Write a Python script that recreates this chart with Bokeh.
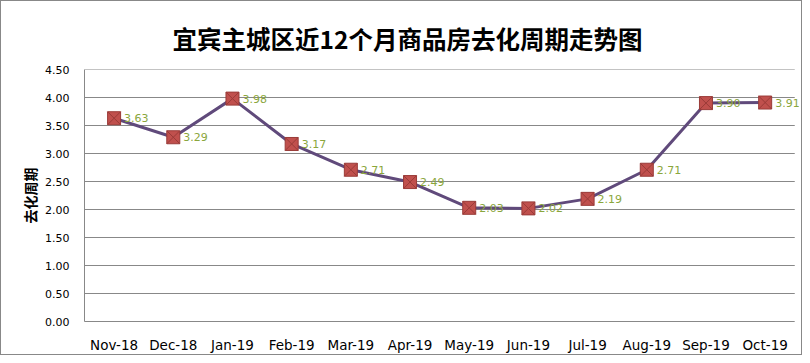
from bokeh.plotting import figure
from bokeh.models import ColumnDataSource, Range1d, FixedTicker, NumeralTickFormatter, LabelSet
from bokeh.embed import file_html
from bokeh.resources import INLINE
from bokeh.core.properties import value

months = ["Nov-18", "Dec-18", "Jan-19", "Feb-19", "Mar-19", "Apr-19",
          "May-19", "Jun-19", "Jul-19", "Aug-19", "Sep-19", "Oct-19"]
cycle = [3.63, 3.29, 3.98, 3.17, 2.71, 2.49, 2.03, 2.02, 2.19, 2.71, 3.90, 3.91]
y_ticks = [0.0, 0.5, 1.0, 1.5, 2.0, 2.5, 3.0, 3.5, 4.0, 4.5]
title_text = "宜宾主城区近12个月商品房去化周期走势图"
y_label = "去化周期"

n = len(months)
xs = list(range(n))
src = ColumnDataSource(dict(x=xs, y=cycle, lbl=["%.2f" % v for v in cycle]))

# frame extends a few pixels past the last category so the last label is not cut
p = figure(width=802, height=355, x_range=Range1d(-0.5, n - 0.5 + 0.08), y_range=Range1d(0, 4.5),
           output_backend="svg", toolbar_location=None,
           min_border_left=83, min_border_right=4, min_border_top=68, min_border_bottom=35)
p.styles = {"border": "1px solid #888888", "box-sizing": "border-box"}

p.title.text = title_text
p.title.align = "left"
p.title.offset = 88
p.title.text_font = "Noto Sans CJK SC"
p.title.text_font_size = "24.5px"
p.title.text_font_style = "bold"
p.title.text_color = "#000000"
p.title.standoff = 28

p.outline_line_color = None
p.background_fill_color = "white"
p.border_fill_color = "white"

p.xgrid.grid_line_color = None
p.ygrid.grid_line_color = None

# horizontal gridlines spanning only the category area
p.segment(x0=[-0.5] * len(y_ticks), x1=[n - 0.5] * len(y_ticks), y0=y_ticks, y1=y_ticks,
          line_color="#888888", line_width=1, level="underlay")

p.yaxis.ticker = FixedTicker(ticks=y_ticks)
p.yaxis.formatter = NumeralTickFormatter(format="0.00")
p.yaxis.major_tick_line_color = None
p.yaxis.minor_tick_line_color = None
p.yaxis.axis_line_color = "#888888"
p.yaxis.major_label_text_font = "DejaVu Sans"
p.yaxis.major_label_text_font_size = "11px"
p.yaxis.major_label_text_color = "#000000"
p.yaxis.major_label_standoff = 9
p.yaxis.axis_label = y_label
p.yaxis.axis_label_text_font = "Noto Sans CJK SC"
p.yaxis.axis_label_text_font_size = "14px"
p.yaxis.axis_label_text_font_style = "bold"
p.yaxis.axis_label_text_color = "#000000"
p.yaxis.axis_label_standoff = 2

p.xaxis.ticker = FixedTicker(ticks=xs)
p.xaxis.major_label_overrides = {i: m for i, m in zip(xs, months)}
p.xaxis.major_tick_line_color = None
p.xaxis.minor_tick_line_color = None
p.xaxis.axis_line_color = "#888888"
p.xaxis.bounds = (-0.5, n - 0.5)
p.xaxis.major_label_text_font = "DejaVu Sans"
p.xaxis.major_label_text_font_size = "13.5px"
p.xaxis.major_label_text_color = "#000000"
p.xaxis.major_label_standoff = 9

p.line("x", "y", source=src, line_color="#604A7B", line_width=3)
p.scatter("x", "y", source=src, marker="square_x", size=13,
          fill_color="#C0504D", line_color="#9A3B38", line_width=1)
labels = LabelSet(x="x", y="y", text="lbl", source=src, x_offset=10, text_baseline="middle",
                  text_align="left", text_color="#8AA63C", text_font_size="11px",
                  text_font=value("DejaVu Sans"))
p.add_layout(labels)

open("out.html", "w").write(file_html(p, INLINE))
